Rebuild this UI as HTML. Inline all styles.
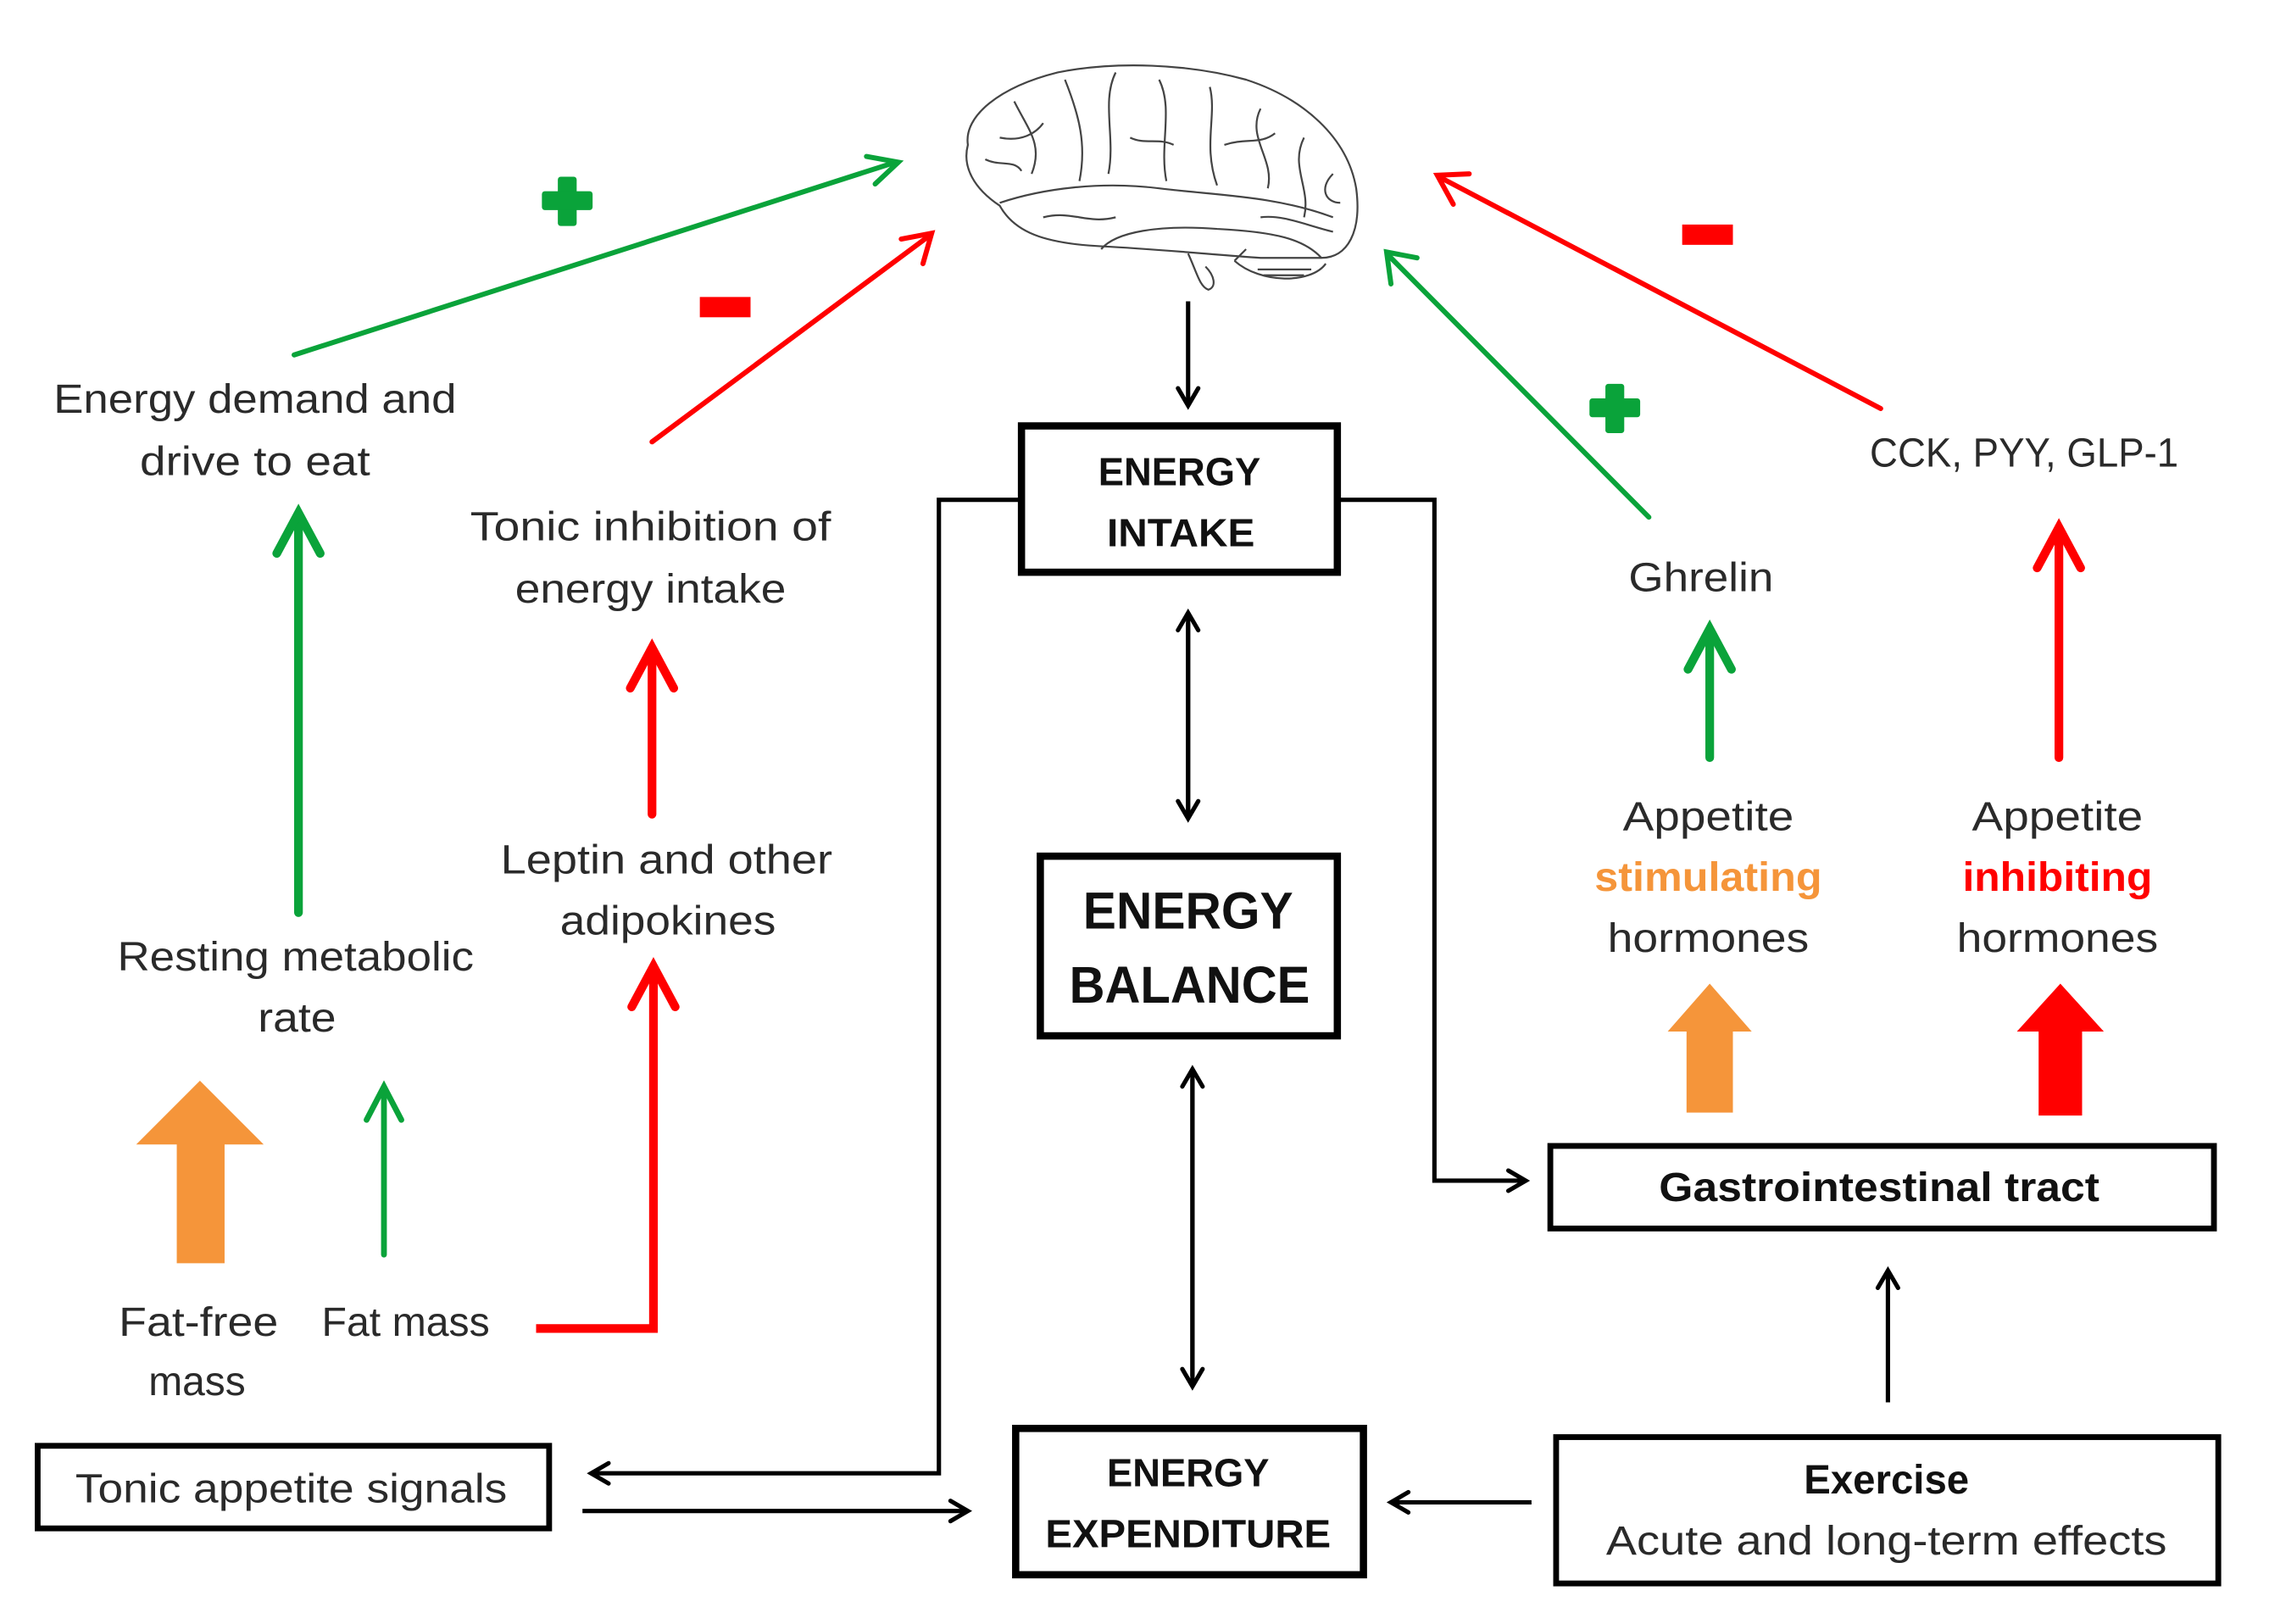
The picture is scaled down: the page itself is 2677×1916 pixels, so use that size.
<!DOCTYPE html>
<html><head><meta charset="utf-8"><style>
html,body{margin:0;padding:0;background:#fff;}
svg{display:block;}
text{font-family:"Liberation Sans",sans-serif;}
</style></head><body>
<svg width="2677" height="1916" viewBox="0 0 1566 1121" preserveAspectRatio="none" xmlns="http://www.w3.org/2000/svg">
<defs>
<marker id="hk" markerWidth="18" markerHeight="18" refX="15" refY="9" orient="auto" markerUnits="userSpaceOnUse" viewBox="0 0 18 18"><path d="M3,2 L15,9 L3,16" fill="none" stroke="#000" stroke-width="3" stroke-linecap="round"/></marker>
</defs>
<rect width="1566" height="1121" fill="#fff"/>

<!-- Brain -->
<g fill="none" stroke="#444" stroke-width="1.3" stroke-linejoin="round">
<path d="M668,100 C665,80 690,60 730,50 C770,42 820,44 860,55 C900,68 930,95 936,130 C940,160 930,178 912,178 L870,178 C840,176 800,172 760,170 C720,168 700,160 690,142 C672,130 664,115 668,100 Z"/>
<path d="M690,140 C720,130 760,125 800,130 C840,135 880,135 920,150"/>
<path d="M760,172 C770,160 800,155 840,158 C880,160 900,165 912,178"/>
<path d="M852,180 C870,196 905,196 915,182"/>
<path d="M852,180 L860,172 M868,186 L905,186 M872,190 L900,190"/>
<path d="M820,175 C826,188 828,198 834,200 C840,198 838,190 832,184"/>
<path d="M700,70 C710,90 720,100 712,120 M735,55 C745,80 750,100 745,125 M770,50 C760,70 770,95 765,120 M800,55 C810,75 800,100 805,125 M835,60 C840,80 830,100 840,128 M870,75 C860,95 880,110 875,130 M900,95 C890,115 905,130 900,150 M690,95 C705,98 715,92 720,85 M845,100 C860,95 870,100 880,92 M780,95 C790,100 800,95 810,100 M720,150 C740,145 750,155 770,150 M870,150 C885,148 900,155 920,160 M680,110 C690,115 700,110 705,118 M920,120 C910,130 915,140 925,140"/>
</g>

<!-- diagonal arrows -->
<g stroke-width="3.5" fill="none" stroke-linecap="round">
<line x1="203" y1="245" x2="618" y2="112" stroke="#0aa33a"/>
<path d="M598,108 L620,112 L604,127" stroke="#0aa33a"/>
<line x1="450" y1="305" x2="641" y2="163" stroke="#f00"/>
<path d="M622,165 L643,161 L637,182" stroke="#f00"/>
<line x1="1138" y1="357" x2="959" y2="177" stroke="#0aa33a"/>
<path d="M960,196 L957,174 L978,178" stroke="#0aa33a"/>
<line x1="1298" y1="282" x2="995" y2="123" stroke="#f00"/>
<path d="M1003,141 L992,121 L1014,120" stroke="#f00"/>
</g>
<g fill="#0aa33a">
<rect x="385" y="122" width="13" height="34" rx="2"/><rect x="374" y="132" width="35" height="13" rx="2"/>
<rect x="1108" y="265" width="13" height="34" rx="2"/><rect x="1097" y="275" width="35" height="13" rx="2"/>
</g>
<g fill="#f00">
<rect x="483" y="205" width="35" height="14"/>
<rect x="1161" y="155" width="35" height="14"/>
</g>

<!-- Vertical colored arrows -->
<g stroke-width="6" fill="none" stroke-linecap="round">
<line x1="206" y1="630" x2="206" y2="356" stroke="#0aa33a"/>
<path d="M191,382 L206,354 L221,382" stroke="#0aa33a"/>
<line x1="450" y1="562" x2="450" y2="449" stroke="#f00"/>
<path d="M435,475 L450,447 L465,475" stroke="#f00"/>
<path d="M370,917 L451,917 L451,670" stroke="#f00" stroke-linecap="butt"/>
<path d="M436,695 L451,667 L466,695" stroke="#f00"/>
<line x1="1180" y1="523" x2="1180" y2="436" stroke="#0aa33a"/>
<path d="M1165,462 L1180,434 L1195,462" stroke="#0aa33a"/>
<line x1="1421" y1="523" x2="1421" y2="366" stroke="#f00"/>
<path d="M1406,392 L1421,364 L1436,392" stroke="#f00"/>
</g>
<g stroke-width="4" fill="none" stroke-linecap="round" stroke="#0aa33a">
<line x1="265" y1="866" x2="265" y2="752"/>
<path d="M253,773 L265,750 L277,773"/>
</g>
<polygon points="138,746 182,790 155,790 155,872 122,872 122,790 94,790" fill="#f5953a"/>
<polygon points="1180,679 1209,712 1196,712 1196,768 1164,768 1164,712 1151,712" fill="#f5953a"/>
<polygon points="1422,679 1452,712 1437,712 1437,770 1407,770 1407,712 1392,712" fill="#f00"/>

<!-- Black connectors -->
<g stroke="#000" stroke-width="3" fill="none">
<line x1="820" y1="208" x2="820" y2="280" marker-end="url(#hk)"/>
<line x1="820" y1="430" x2="820" y2="565" marker-end="url(#hk)"/>
<line x1="820" y1="560" x2="820" y2="423" marker-end="url(#hk)"/>
<line x1="823" y1="745" x2="823" y2="957" marker-end="url(#hk)"/>
<line x1="823" y1="950" x2="823" y2="738" marker-end="url(#hk)"/>
<path d="M703,345 L648,345 L648,1017 L408,1017" marker-end="url(#hk)"/>
<line x1="402" y1="1043" x2="668" y2="1043" marker-end="url(#hk)"/>
<path d="M924,345 L990,345 L990,815 L1053,815" marker-end="url(#hk)"/>
<line x1="1057" y1="1037" x2="960" y2="1037" marker-end="url(#hk)"/>
<line x1="1303" y1="968" x2="1303" y2="877" marker-end="url(#hk)"/>
</g>

<!-- Boxes -->
<g fill="#fff" stroke="#000">
<rect x="705" y="294" width="218" height="101" stroke-width="5"/>
<rect x="718" y="591" width="205" height="124" stroke-width="5"/>
<rect x="701" y="986" width="240" height="101" stroke-width="5"/>
<rect x="26" y="998" width="353" height="57" stroke-width="4"/>
<rect x="1070" y="791" width="458" height="57" stroke-width="4"/>
<rect x="1074" y="992" width="457" height="101" stroke-width="4"/>
</g>

<!-- Text -->
<g font-size="28" fill="#2a2a2a" text-anchor="middle" lengthAdjust="spacingAndGlyphs">
<text x="176" y="285" textLength="278" lengthAdjust="spacingAndGlyphs">Energy demand and</text>
<text x="176" y="328" textLength="159" lengthAdjust="spacingAndGlyphs">drive to eat</text>
<text x="449" y="373" textLength="249" lengthAdjust="spacingAndGlyphs">Tonic inhibition of</text>
<text x="449" y="416" textLength="187" lengthAdjust="spacingAndGlyphs">energy intake</text>
<text x="460" y="603" textLength="229" lengthAdjust="spacingAndGlyphs">Leptin and other</text>
<text x="461" y="645" textLength="149" lengthAdjust="spacingAndGlyphs">adipokines</text>
<text x="204" y="670" textLength="246" lengthAdjust="spacingAndGlyphs">Resting metabolic</text>
<text x="205" y="712" textLength="54" lengthAdjust="spacingAndGlyphs">rate</text>
<text x="137" y="922" textLength="110" lengthAdjust="spacingAndGlyphs">Fat-free</text>
<text x="136" y="963" textLength="67" lengthAdjust="spacingAndGlyphs">mass</text>
<text x="280" y="922" textLength="116" lengthAdjust="spacingAndGlyphs">Fat mass</text>
<text x="201" y="1037" textLength="298" lengthAdjust="spacingAndGlyphs">Tonic appetite signals</text>
<text x="1174" y="408" textLength="100" lengthAdjust="spacingAndGlyphs">Ghrelin</text>
<text x="1397" y="322" textLength="213" lengthAdjust="spacingAndGlyphs">CCK, PYY, GLP-1</text>
<text x="1179" y="573" textLength="118" lengthAdjust="spacingAndGlyphs">Appetite</text>
<text x="1179" y="615" fill="#f5953a" font-weight="bold" textLength="157" lengthAdjust="spacingAndGlyphs">stimulating</text>
<text x="1179" y="657" textLength="139" lengthAdjust="spacingAndGlyphs">hormones</text>
<text x="1420" y="573" textLength="118" lengthAdjust="spacingAndGlyphs">Appetite</text>
<text x="1420" y="615" fill="#f00" font-weight="bold" textLength="131" lengthAdjust="spacingAndGlyphs">inhibiting</text>
<text x="1420" y="657" textLength="139" lengthAdjust="spacingAndGlyphs">hormones</text>
<text x="1302" y="1073" textLength="387" lengthAdjust="spacingAndGlyphs">Acute and long-term effects</text>
</g>
<g font-weight="bold" fill="#111" text-anchor="middle">
<text x="814" y="335" font-size="27" textLength="112" lengthAdjust="spacingAndGlyphs">ENERGY</text>
<text x="815" y="377" font-size="27" textLength="102" lengthAdjust="spacingAndGlyphs">INTAKE</text>
<text x="820" y="641" font-size="36" textLength="145" lengthAdjust="spacingAndGlyphs">ENERGY</text>
<text x="821" y="692" font-size="36" textLength="166" lengthAdjust="spacingAndGlyphs">BALANCE</text>
<text x="820" y="1026" font-size="27" textLength="112" lengthAdjust="spacingAndGlyphs">ENERGY</text>
<text x="820" y="1068" font-size="27" textLength="197" lengthAdjust="spacingAndGlyphs">EXPENDITURE</text>
<text x="1297" y="829" font-size="28" textLength="304" lengthAdjust="spacingAndGlyphs">Gastrointestinal tract</text>
<text x="1302" y="1031" font-size="28" textLength="114" lengthAdjust="spacingAndGlyphs">Exercise</text>
</g>
</svg>
</body></html>
